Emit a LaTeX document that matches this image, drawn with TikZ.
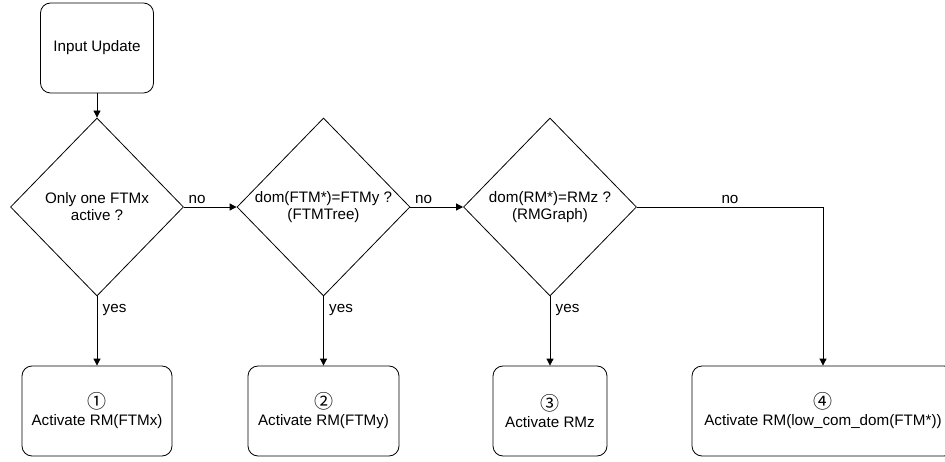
\documentclass[tikz,border=0pt]{standalone}
\usepackage{fontspec}
\setmainfont{Liberation Sans}
\newfontfamily\circfont{Noto Sans CJK SC}
\usetikzlibrary{positioning,shapes.geometric,arrows.meta}

\tikzset{
  startbox/.style={draw, rounded corners=10pt, minimum width=113pt, minimum height=90pt, align=center},
  decision/.style={draw, diamond, minimum width=173pt, minimum height=178pt, inner sep=0pt, align=center},
  action/.style={draw, rounded corners=10pt, minimum height=90pt, align=center},
  flow/.style={-{Triangle[length=7pt,width=7pt]}, line width=0.8pt},
}
\newcommand{\circnum}[1]{{\circfont\fontsize{19}{17}\selectfont #1}}

\begin{document}
\begin{tikzpicture}[node distance=2cm, on grid, auto, line width=0.8pt,
    font=\fontsize{15.2}{17}\selectfont]
  \useasboundingbox (0,0) rectangle (945pt,-462pt);
  \node[startbox] (input) at (97pt,-48pt) {Input Update};
  \node[decision] (one) [below=159pt of input] {Only one FTMx\\active ?};
  \node[decision] (ftmtree) [right=226.5pt of one] {dom(FTM*)=FTMy ?\\(FTMTree)};
  \node[decision] (rmgraph) [right=226.5pt of ftmtree] {dom(RM*)=RMz ?\\(RMGraph)};
  \node[action, minimum width=150pt] (act1) [below=204pt of one] {\circnum{①}\\Activate RM(FTMx)};
  \node[action, minimum width=151pt] (act2) [below=204pt of ftmtree] {\circnum{②}\\Activate RM(FTMy)};
  \node[action, minimum width=114pt] (act3) [below=204pt of rmgraph] {\circnum{③}\\Activate RMz};
  \node[action, minimum width=262pt] (act4) [right=273pt of act3] {\circnum{④}\\Activate RM(low\_com\_dom(FTM*))};

  \draw[flow] (input) -- (one);
  \draw[flow] (one.east) -- node[pos=0.25] {no} (ftmtree.west);
  \draw[flow] (ftmtree.east) -- node[pos=0.25] {no} (rmgraph.west);
  \draw[flow] (rmgraph.east) -| node[pos=0.25] {no} (act4.north);
  \draw[flow] (one.south) -- node[pos=0.2, right=2pt] {yes} (act1.north);
  \draw[flow] (ftmtree.south) -- node[pos=0.2, right=2pt] {yes} (act2.north);
  \draw[flow] (rmgraph.south) -- node[pos=0.2, right=2pt] {yes} (act3.north);
\end{tikzpicture}
\end{document}
